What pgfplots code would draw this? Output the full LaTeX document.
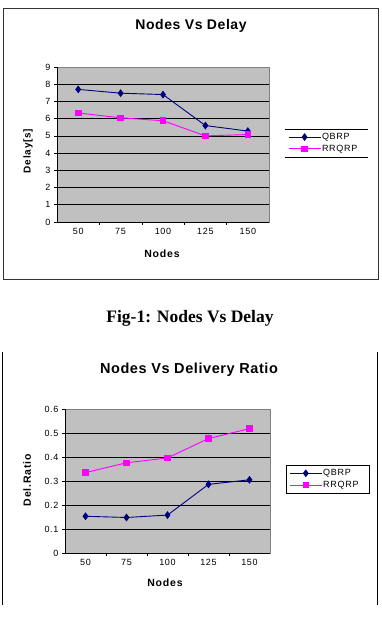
\documentclass[border=0pt]{standalone}
\usepackage{pgfplots}
\pgfplotsset{compat=1.18}
\usepackage{fontspec}
\setmainfont{Liberation Sans}
\newfontfamily\xls[LetterSpace=8]{Liberation Sans}
\newfontfamily\xlt[LetterSpace=4]{Liberation Sans}
\newfontfamily\capfont{Liberation Serif}
\definecolor{qbrp}{HTML}{000080}
\definecolor{rrqrp}{HTML}{FF00FF}
\definecolor{plotbg}{HTML}{C0C0C0}

% Data: delay [s] and delivery ratio per node count
\pgfplotstableread{
idx nodes qbrp rrqrp
1   50    7.70 6.33
2   75    7.48 6.05
3   100   7.40 5.88
4   125   5.60 5.00
5   150   5.28 5.08
}\delaytab
\pgfplotstableread{
idx nodes qbrp  rrqrp
1   50    0.153 0.335
2   75    0.148 0.376
3   100   0.158 0.396
4   125   0.286 0.477
5   150   0.305 0.518
}\ratiotab

\pgfplotsset{
  excel/.style={
    scale only axis, clip=false,
    axis background/.style={fill=plotbg},
    axis line style={draw=gray, line width=0.6pt},
    xmin=0.5, xmax=5.5,
    xtick={1,...,5}, xticklabels={50,75,100,125,150},
    major x tick style={draw=none},
    minor xtick={1.5,2.5,3.5,4.5},
    minor x tick style={black, line width=0.6pt},
    y tick style={black, line width=0.6pt},
    tick align=outside, tick pos=left,
    major tick length=3pt, minor tick length=3pt,
    ymajorgrids, y grid style={black, line width=0.7pt},
    tick label style={font=\xls\fontsize{9}{10}\selectfont},
    /pgf/number format/assume math mode=true,
    legend cell align=left,
    legend image code/.code={\draw[mark repeat=2,mark phase=2,#1] plot coordinates {(0pt,0pt)(16pt,0pt)(32pt,0pt)};},
    legend style={font=\xls\fontsize{9}{10}\selectfont, fill=white, anchor=north west,
      inner xsep=3pt, inner ysep=3pt, row sep=2pt,
      nodes={text width=42pt, inner sep=1pt}},
  },
  qb/.style={color=qbrp, line width=0.9pt, mark=diamond*, mark size=3.2pt, mark options={fill=qbrp}},
  rr/.style={color=rrqrp, line width=0.9pt, mark=square*, mark size=2.8pt, mark options={fill=rrqrp}},
}

\begin{document}
\begin{tikzpicture}[x=1pt,y=1pt]
\useasboundingbox (0,0) rectangle (381,623);

% ---------- Nodes vs Delay ----------
\draw[line width=0.7pt, black!80] (3,344) rectangle (378,615);
\node[anchor=base, font=\xlt\bfseries\fontsize{14}{16}\selectfont] at (191,593) {Nodes Vs Delay};
\begin{axis}[excel, at={(57pt,401pt)}, anchor=south west, width=212pt, height=155pt,
    ymin=0, ymax=9, ytick={0,...,9},
    legend style={at={(1.075,0.6)}, draw=none, name=leg1}]
  \addplot[qb] table[x=idx, y=qbrp] {\delaytab};
  \addplot[rr] table[x=idx, y=rrqrp] {\delaytab};
  \legend{QBRP, RRQRP}
  \draw[black, line width=0.7pt] (rel axis cs:0,1) -- (rel axis cs:0,0) -- (rel axis cs:1,0);
\end{axis}
\draw[line width=0.7pt] (leg1.north west) -- (leg1.north east);
\draw[line width=0.7pt] (leg1.south west) -- (leg1.south east);
\node[rotate=90, font=\xls\bfseries\fontsize{10}{12}\selectfont] at (28,472) {Delay[s]};
\node[anchor=base, font=\xls\bfseries\fontsize{10.5}{12}\selectfont] at (162,365) {Nodes};

% ---------- caption ----------
\node[anchor=base, font=\capfont\bfseries\fontsize{17.5}{20}\selectfont] at (190,300) {Fig-1: Nodes Vs Delay};

% ---------- Nodes vs Delivery Ratio ----------
\draw[line width=0.7pt] (2,271) -- (2,18);
\draw[line width=0.7pt] (377,271) -- (377,18);
\node[anchor=base, font=\xlt\bfseries\fontsize{14.5}{16}\selectfont] at (189,249) {Nodes Vs Delivery Ratio};
\begin{axis}[excel, at={(65pt,70pt)}, anchor=south west, width=205pt, height=144pt,
    ymin=0, ymax=0.6, ytick={0,0.1,...,0.6},
    yticklabel style={/pgf/number format/.cd, fixed, precision=1},
    legend style={at={(1.078,0.611)}, draw=black, line width=0.7pt}]
  \addplot[qb] table[x=idx, y=qbrp] {\ratiotab};
  \addplot[rr] table[x=idx, y=rrqrp] {\ratiotab};
  \legend{QBRP, RRQRP}
  \draw[black, line width=0.7pt] (rel axis cs:0,1) -- (rel axis cs:0,0) -- (rel axis cs:1,0);
\end{axis}
\node[rotate=90, font=\xls\bfseries\fontsize{10.5}{12}\selectfont] at (27,143) {Del.Ratio};
\node[anchor=base, font=\xls\bfseries\fontsize{10.5}{12}\selectfont] at (165,36) {Nodes};
\end{tikzpicture}
\end{document}
